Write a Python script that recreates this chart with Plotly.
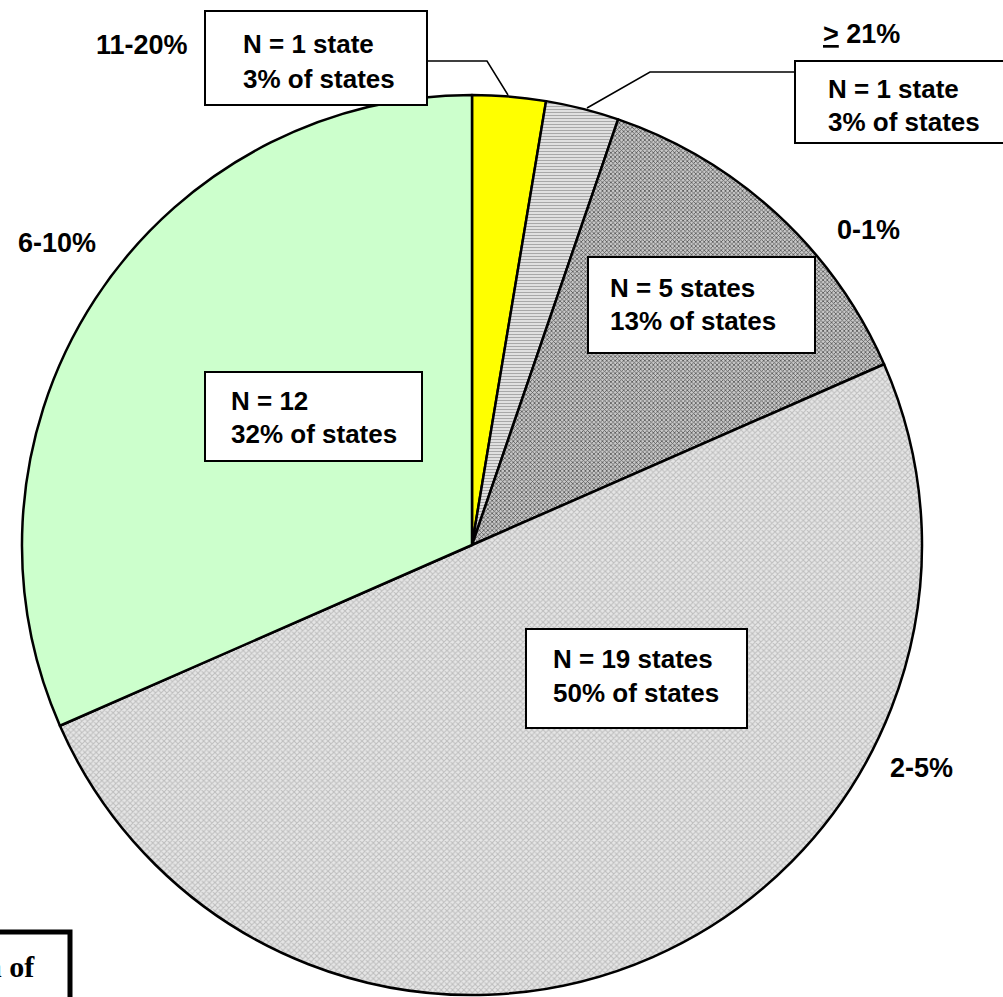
import plotly.graph_objects as go

# ---- data ----
categories = ["11-20%", "> 21%", "0-1%", "2-5%", "6-10%"]
n_states = [1, 1, 5, 19, 12]
pct_labels = ["3% of states", "3% of states", "13% of states", "50% of states", "32% of states"]
n_labels = ["N = 1 state", "N = 1 state", "N = 5 states", "N = 19 states", "N = 12"]

# ---- styles ----
bg_colors = ["#FFFF00", "#ececec", "#c8c8c8", "#e6e6e6", "#CCFFCC"]
fg_colors = ["#FFFF00", "#a8a8a8", "#555555", "#bdbdbd", "#CCFFCC"]
shapes_pat = ["", "-", "x", "x", ""]
pat_sizes = [4, 3, 3, 4, 4]

W, H = 1003, 997
def X(p): return p / W
def Y(p): return 1 - p / H

cx, cy, r = 472, 545, 450

fig = go.Figure(go.Pie(
    labels=categories,
    values=n_states,
    sort=False,
    direction="clockwise",
    rotation=0,
    textinfo="none",
    hoverinfo="label+value",
    showlegend=False,
    marker=dict(
        colors=bg_colors,
        line=dict(color="black", width=2.5),
        pattern=dict(shape=shapes_pat, fgcolor=fg_colors, bgcolor=bg_colors,
                     size=pat_sizes, solidity=0.45, fillmode="replace"),
    ),
    domain=dict(x=[X(cx - r), X(cx + r)], y=[Y(cy + r), Y(cy - r)]),
))

shapes = []
annotations = []
FONT = "Liberation Sans"

# text boxes: (x0, y0, x1, y1, text_left, line1_y, line2_y)
boxes = [
    (205, 11, 427, 105, 241, 44, 79),
    (795, 61, 1015, 143, 826, 89, 122),
    (588, 257, 815, 353, 608, 288, 321),
    (526, 629, 747, 728, 551, 659, 693),
    (205, 372, 422, 461, 229, 401, 434),
]
for i, (x0, y0, x1, y1, tx, l1, l2) in enumerate(boxes):
    shapes.append(dict(type="rect", xref="paper", yref="paper",
                       x0=X(x0), x1=X(x1), y0=Y(y1), y1=Y(y0),
                       fillcolor="white", line=dict(color="black", width=2)))
    for txt, yy in ((n_labels[i], l1), (pct_labels[i], l2)):
        annotations.append(dict(xref="paper", yref="paper", x=X(tx), y=Y(yy),
                                xanchor="left", yanchor="middle", showarrow=False,
                                text="<b>%s</b>" % txt,
                                font=dict(family=FONT, size=26, color="black")))

# leader lines
shapes.append(dict(type="path", xref="paper", yref="paper",
                   path="M %f %f L %f %f L %f %f" % (X(427), Y(61), X(487), Y(61), X(508), Y(95)),
                   line=dict(color="black", width=1.5)))
shapes.append(dict(type="path", xref="paper", yref="paper",
                   path="M %f %f L %f %f L %f %f" % (X(795), Y(72), X(650), Y(72), X(587), Y(108)),
                   line=dict(color="black", width=1.5)))

# category labels (x, y, anchor)
cat_pos = [(94, 45, "left"), (821, 34, "left"), (835, 230, "left"), (888, 768, "left"), (16, 243, "left")]
cat_text = ["11-20%", "<u>></u> 21%", "0-1%", "2-5%", "6-10%"]
for (x, y, a), t in zip(cat_pos, cat_text):
    annotations.append(dict(xref="paper", yref="paper", x=X(x), y=Y(y),
                            xanchor=a, yanchor="middle", showarrow=False,
                            text="<b>%s</b>" % t,
                            font=dict(family=FONT, size=27, color="black")))

# partially visible bottom-left box
shapes.append(dict(type="rect", xref="paper", yref="paper",
                   x0=X(-20), x1=X(70), y0=Y(1020), y1=Y(932),
                   fillcolor="rgba(0,0,0,0)", line=dict(color="black", width=5)))
annotations.append(dict(xref="paper", yref="paper", x=X(37), y=Y(966),
                        xanchor="right", yanchor="middle", showarrow=False,
                        text="<b>Distribution of</b>",
                        font=dict(family="Liberation Serif", size=30, color="black")))

fig.update_layout(
    width=W, height=H,
    margin=dict(l=0, r=0, t=0, b=0),
    paper_bgcolor="white", plot_bgcolor="white",
    shapes=shapes, annotations=annotations,
)

fig.write_html("out.html")
